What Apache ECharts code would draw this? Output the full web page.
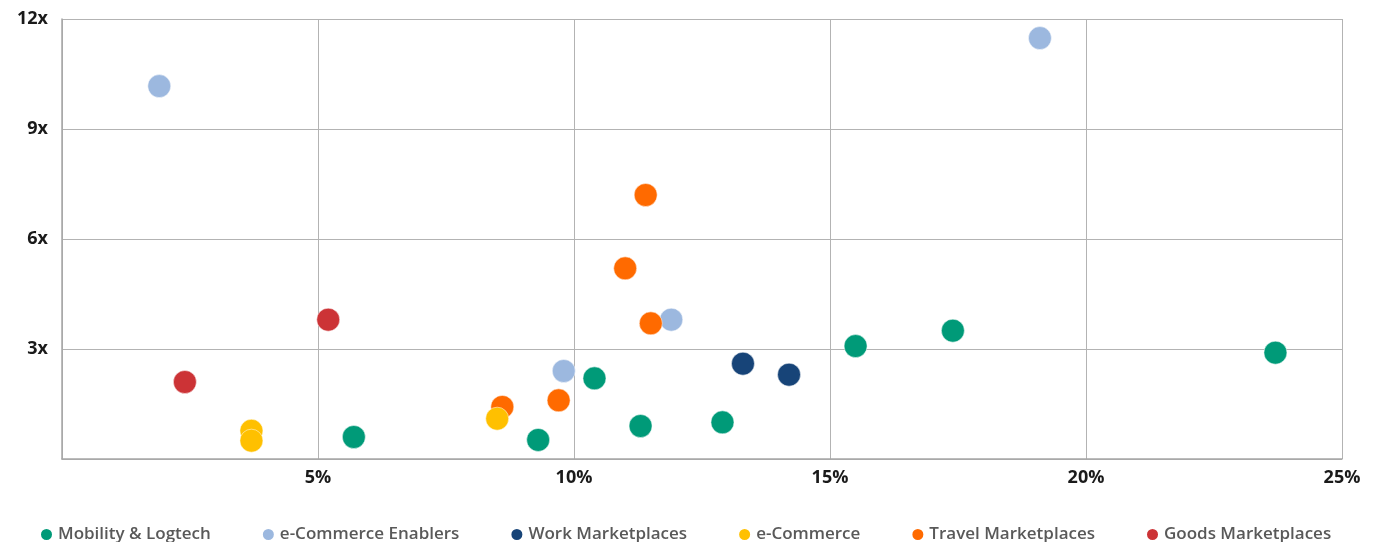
<!DOCTYPE html>
<html><head><meta charset="utf-8">
<script src="https://cdn.jsdelivr.net/npm/echarts@6/dist/echarts.min.js"></script>
<style>html,body{margin:0;padding:0;background:#fff}#c{width:1384px;height:542px}</style>
</head><body><div id="c"></div>
<script>
const seriesNames = ['Mobility & Logtech','e-Commerce Enablers','Work Marketplaces','e-Commerce','Travel Marketplaces','Goods Marketplaces'];
const colors = ['#009a78','#9cb8df','#174478','#ffc000','#ff6a00','#cc3336'];
const mobility = [[5.7,0.6],[9.3,0.52],[10.4,2.2],[11.3,0.9],[12.9,1.0],[15.5,3.08],[17.4,3.5],[23.7,2.9]];
const enablers = [[1.9,10.17],[9.8,2.4],[11.9,3.8],[19.1,11.48]];
const work = [[13.3,2.6],[14.2,2.3]];
const ecommerce = [[3.7,0.77],[3.7,0.5],[8.5,1.1]];
const travel = [[11.4,7.2],[11.0,5.2],[11.5,3.7],[8.6,1.42],[9.7,1.6]];
const goods = [[5.2,3.8],[2.4,2.1]];
const allData = [mobility, enablers, work, ecommerce, travel, goods];
const zOrder = [2,3,2,4,3,2];

const chart = echarts.init(document.getElementById('c'));
chart.setOption({
  animation:false,
  textStyle:{fontFamily:'Open Sans'},
  grid:{left:62,right:42,top:19,bottom:83},
  xAxis:{type:'value',min:0,max:25,interval:5,
    axisLine:{show:true,lineStyle:{color:'#a6a6a6',width:1.5}},
    axisTick:{show:false},
    splitLine:{lineStyle:{color:'#b3b3b3',width:1}},
    axisLabel:{formatter:v=>v===0?'':v+'%',color:'#1a1a1a',fontSize:18,fontWeight:'bold',margin:10}},
  yAxis:{type:'value',min:0,max:12,interval:3,
    axisLine:{show:true,lineStyle:{color:'#a6a6a6',width:1.5}},
    axisTick:{show:false},
    splitLine:{lineStyle:{color:'#b3b3b3',width:1}},
    axisLabel:{formatter:v=>v===0?'':v+'x',color:'#1a1a1a',fontSize:18,fontWeight:'bold',margin:14}},
  legend:{bottom:-6,left:34,icon:'circle',itemWidth:13,itemHeight:13,itemGap:50,
    textStyle:{color:'#595959',fontSize:17,fontWeight:600},data:seriesNames},
  series: seriesNames.map((n,i)=>({name:n,type:'scatter',symbolSize:23,z:zOrder[i],
    itemStyle:{color:colors[i],opacity:1,borderColor:'#fff',borderWidth:0.5},data:allData[i]}))
});
</script></body></html>
